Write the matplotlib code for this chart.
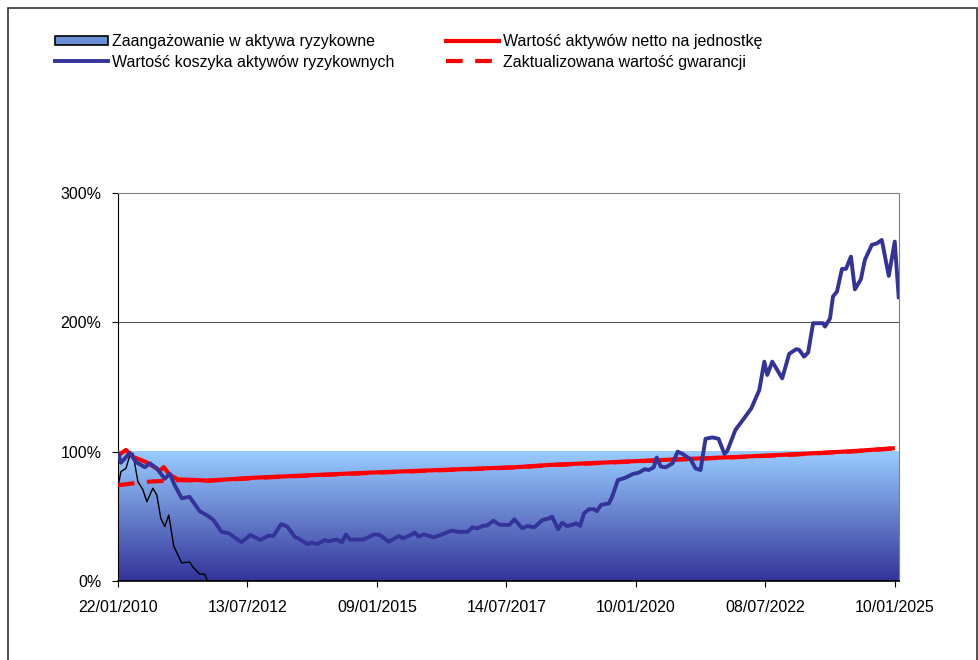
import numpy as np
import matplotlib.pyplot as plt
from matplotlib.lines import Line2D
from matplotlib.patches import Patch, Rectangle
from matplotlib.colors import LinearSegmentedColormap

plt.rcParams["font.family"] = ["Liberation Sans", "DejaVu Sans"]

# week index since 22/01/2010 (category axis)
tick_weeks = [0, 130, 260, 390, 520, 650, 780]
tick_labels = ["22/01/2010", "13/07/2012", "09/01/2015", "14/07/2017",
               "10/01/2020", "08/07/2022", "10/01/2025"]

basket_weeks = [0, 3, 12, 18, 27, 32, 39, 47, 52, 57, 64, 72, 82, 91, 96, 104,
                111, 124, 133, 143, 151, 156, 164, 170, 178, 181, 190, 195,
                200, 208, 211, 220, 225, 229, 233, 246, 252, 257, 263, 272,
                282, 286, 294, 298, 302, 307, 317, 324, 335, 342, 351, 356,
                361, 366, 371, 377, 383, 393, 398, 406, 411, 418, 426, 433,
                436, 442, 446, 451, 456, 460, 464, 468, 473, 478, 481, 485,
                493, 496, 502, 510, 517, 523, 529, 533, 538, 541, 545, 550,
                557, 562, 567, 575, 580, 585, 590, 597, 603, 609, 612, 620,
                627, 636, 644, 649, 652, 657, 667, 674, 681, 684, 689, 693,
                698, 708, 710, 715, 718, 722, 727, 731, 736, 740, 746, 750,
                757, 762, 767, 774, 780, 784]
basket = [99, 91.5, 99, 92, 88, 91, 87, 79, 83, 74, 64, 65, 54, 50, 47, 38,
          37, 30, 35.6, 31.7, 35, 34.8, 44, 42, 33.8, 33, 28.6, 29.6,
          28.6, 31.7, 30.7, 32, 30, 36, 32, 32, 34, 36, 35.6, 30.4,
          34.8, 33, 35.6, 37.4, 34.3, 36, 33.8, 35.6, 38.9, 38, 38, 41.5,
          40.7, 42.5, 43, 46.6, 43.5, 43.3, 47.7, 40.7, 42.5, 41.5, 47, 48.5,
          49.7, 40, 45, 42.5, 43.3, 44.6, 42.7, 52.4, 55.5, 55.5, 54, 58.8,
          60, 64.7, 78, 80, 82.7, 83.8, 86.4, 85.8, 87.9, 95.4, 88.5, 87.9,
          91, 100, 98.2, 94, 87, 85.8, 110, 111, 110, 98.2, 100.8, 116.8,
          124, 133.5, 147.7, 169.6, 159.3, 169.6, 156.7, 175.6, 179.2, 178.7, 173.5, 176.6,
          199.3, 199.3, 196.7, 203, 220, 223.8, 241.3, 241.3, 250.8, 225.5, 233.3, 248.3,
          259.9, 261, 263.7, 235.9, 262.4, 219.4]

nav_weeks = [0, 8, 15, 28, 33, 42, 46, 52, 60, 81, 89, 141, 200, 260, 330,
             400, 433, 500, 560, 624, 680, 740, 778]
nav = [97, 101.3, 96, 92, 89.7, 85.3, 88, 82, 78.6, 78, 77.6, 80, 82, 84, 86,
       88, 89.7, 92, 94, 96, 98, 100.5, 102.6]

guar_weeks = [0, 10, 20, 35, 50, 62, 89, 141, 200, 260, 330, 400, 433, 500,
              560, 624, 680, 740, 778]
guarantee = [74, 75, 76, 77, 77.5, 78, 77.4, 79.8, 81.8, 83.8, 85.8, 87.8,
             89.5, 91.8, 93.8, 95.8, 97.8, 100.3, 102.4]

expo_weeks = [0, 3, 8, 12, 15, 20, 25, 29, 35, 39, 43, 47, 51, 56, 64, 72,
              75, 82, 87, 90, 784]
exposure = [73, 84.6, 87, 97.4, 98.7, 76.8, 70.6, 61.3, 71.7, 66.5, 48.5, 42,
            51, 27, 14, 14.7, 11, 5.4, 5.2, 0, 0]

fig = plt.figure(figsize=(9.79, 6.6), dpi=100)
ax = fig.add_axes([0.1205, 0.1197, 0.7975, 0.5879])

xmax = basket_weeks[-1]

# exposure area: gradient fill up to 100%
cmap = LinearSegmentedColormap.from_list("expo", ["#333399", "#99CCFF"])
grad = np.linspace(0, 1, 256).reshape(-1, 1)
ax.imshow(grad, extent=[0, xmax, 0, 100], origin="lower", aspect="auto",
          cmap=cmap, zorder=1)

ax.axhline(100, color="#555555", lw=0.8, zorder=0.5)
ax.axhline(200, color="#555555", lw=0.8, zorder=0.5)

ax.plot(expo_weeks, exposure, color="black", lw=1.0, zorder=3)
ax.plot(guar_weeks, guarantee, color="#FF0000", lw=3, ls=(0, (4, 3)), zorder=4)
ax.plot(nav_weeks, nav, color="#FF0000", lw=3, zorder=4)
ax.plot(basket_weeks, basket, color="#333399", lw=2.8, zorder=5)

ax.set_xlim(0, xmax)
ax.set_ylim(0, 300)
ax.set_yticks([0, 100, 200, 300])
ax.set_yticklabels(["0%", "100%", "200%", "300%"], fontsize=11.5)
ax.set_xticks(tick_weeks)
ax.set_xticklabels(tick_labels, fontsize=11.5)
ax.tick_params(axis="both", direction="out", length=4, width=0.8, colors="black")
ax.tick_params(axis="x", pad=9.5)
ax.tick_params(axis="y", pad=8)

for side in ["top", "right"]:
    ax.spines[side].set_color("#808080")
ax.spines["left"].set_color("black")
ax.spines["bottom"].set_color("black")
ax.spines["bottom"].set_linewidth(1.2)
ax.spines["bottom"].set_zorder(6)

handles = [
    Patch(facecolor="#6a8fd6", edgecolor="black", lw=1.2),
    Line2D([], [], color="#333399", lw=2.8),
    Line2D([], [], color="#FF0000", lw=3),
    Line2D([], [], color="#FF0000", lw=3, ls=(0, (4, 3))),
]
labels = ["Zaangażowanie w aktywa ryzykowne",
          "Wartość koszyka aktywów ryzykownych",
          "Wartość aktywów netto na jednostkę",
          "Zaktualizowana wartość gwarancji"]
fig.legend(handles, labels, ncol=2, loc="upper left",
           bbox_to_anchor=(0.0496, 0.958), frameon=False, fontsize=11.5,
           handlelength=3.3, handleheight=0.55, handletextpad=0.3,
           columnspacing=3.2, labelspacing=0.35, borderaxespad=0)

fig.add_artist(Rectangle((0.008, -0.01), 0.99, 0.998, transform=fig.transFigure,
                         fill=False, edgecolor="#333333", lw=1.2))

fig.savefig("out.png", dpi=100)
